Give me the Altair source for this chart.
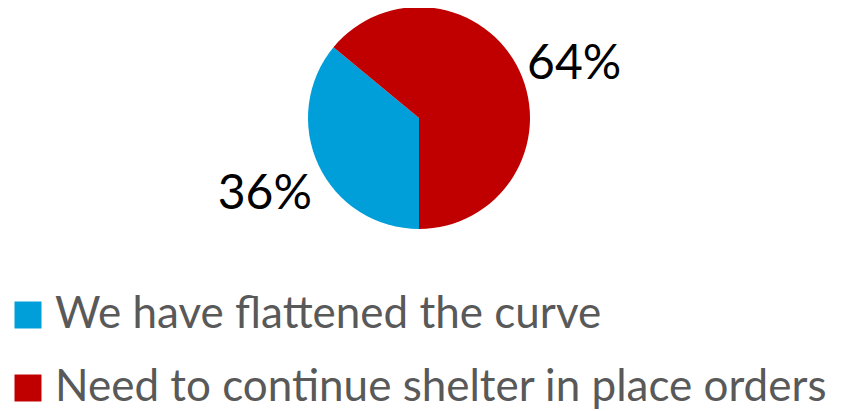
import math
import altair as alt
import pandas as pd

categories = ["We have flattened the curve", "Need to continue shelter in place orders"]
shares = [36, 64]
labels = ["36%", "64%"]
colors = ["#009FDA", "#C00000"]

df = pd.DataFrame({"category": categories, "share": shares, "label": labels, "order": [0, 1]})

tscale = alt.Scale(domain=[0, 100], range=[math.pi, 3 * math.pi])
color = alt.Color(
    "category:N",
    scale=alt.Scale(domain=categories, range=colors),
    sort=categories,
    legend=alt.Legend(
        title=None,
        orient="none",
        legendX=-2,
        legendY=285,
        symbolType="square",
        symbolSize=729,
        symbolStrokeWidth=0,
        symbolOpacity=1,
        labelFontSize=44,
        labelFont="Lato",
        labelColor="#595959",
        labelOffset=5,
        labelLimit=900,
        rowPadding=29,
    ),
)

base = (
    alt.Chart(df)
    .transform_window(s1="sum(share)", sort=[alt.SortField("order")])
    .transform_calculate(s0="datum.s1 - datum.share", mid="datum.s1 - datum.share / 2")
    .encode(x=alt.value(411), y=alt.value(110))
)

pie = base.mark_arc(outerRadius=111, stroke=None).encode(
    theta=alt.Theta("s0:Q", scale=tscale, stack=None),
    theta2="s1:Q",
    color=color,
)
text_blue = (
    base.transform_filter(alt.datum.order == 0)
    .mark_text(radius=166, fontSize=48, font="Lato", color="black", dx=-4, dy=6)
    .encode(theta=alt.Theta("mid:Q", scale=tscale, stack=None), text="label:N")
)
text_red = (
    base.transform_filter(alt.datum.order == 1)
    .mark_text(radius=166, fontSize=48, font="Lato", color="black", dx=5, dy=18)
    .encode(theta=alt.Theta("mid:Q", scale=tscale, stack=None), text="label:N")
)

chart = (
    alt.layer(pie, text_blue, text_red)
    .properties(width=827, height=403, padding=0, autosize=alt.AutoSizeParams(type="none"))
    .configure_view(stroke=None)
)

chart.save("out.html", embed_options={"renderer": "svg", "actions": False})
